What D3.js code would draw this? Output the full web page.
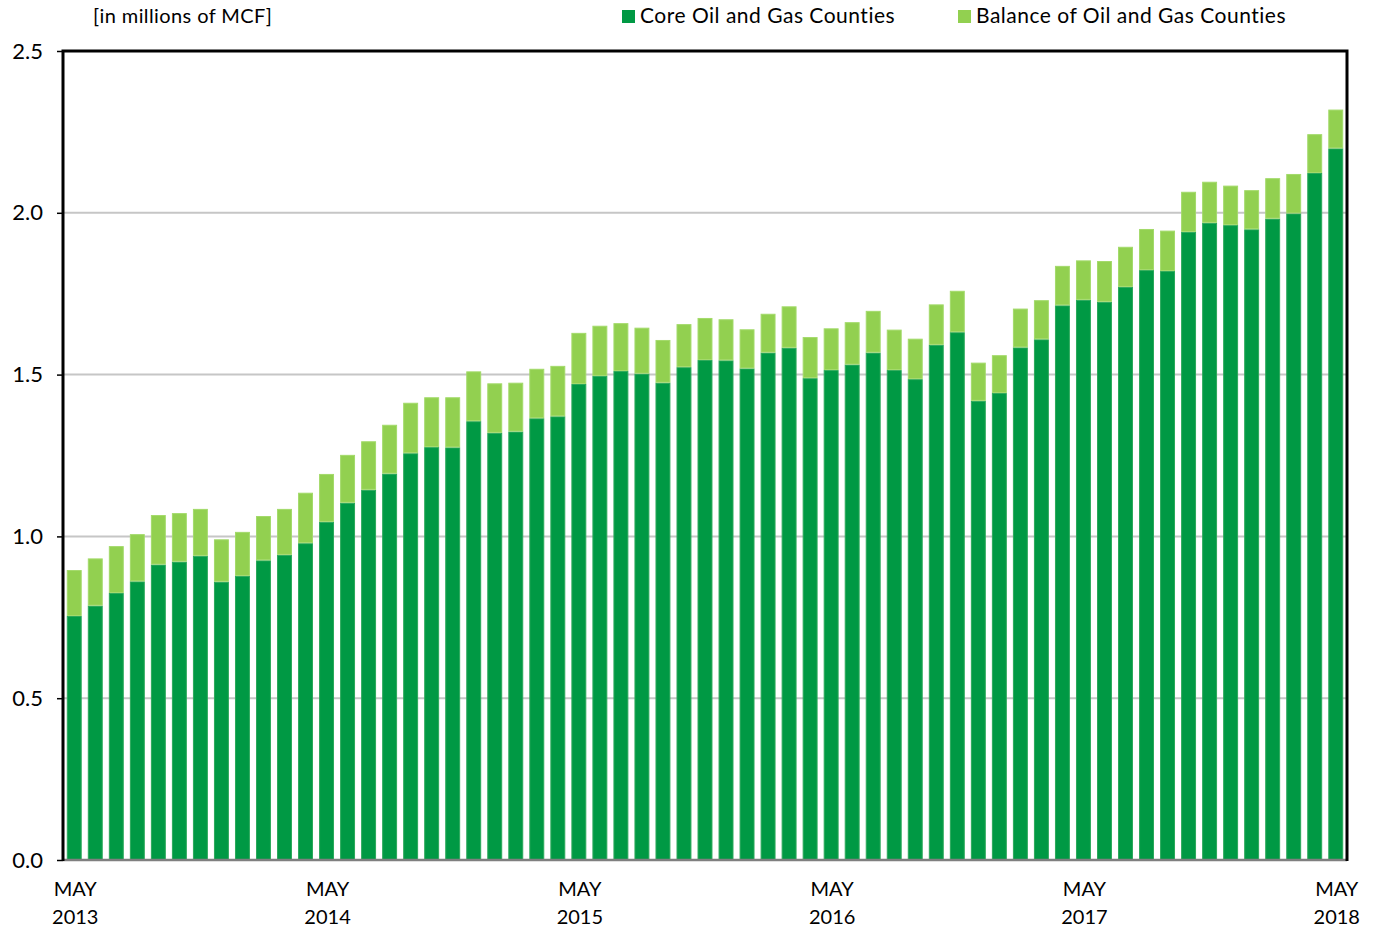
<!DOCTYPE html>
<html>
<head>
<meta charset="utf-8">
<script src="https://cdn.jsdelivr.net/npm/d3@7"></script>
<style>
  body { margin: 0; background: #fff; }
  svg text { font-family: "Lato", "Liberation Sans", sans-serif; fill: #000; }
</style>
</head>
<body>
<script>
// months May 2013 .. May 2018
const months = d3.range(61).map(function(i) { return new Date(2013, 4 + i, 1); });

// core oil and gas counties (millions of MCF)
const coreValues = [
    0.754, 0.786, 0.825, 0.861, 0.913, 0.922, 0.940, 0.860, 0.878, 0.926, 0.943, 0.979,
    1.045, 1.104, 1.144, 1.194, 1.257, 1.276, 1.275, 1.356, 1.320, 1.324, 1.365, 1.371,
    1.471, 1.496, 1.511, 1.503, 1.475, 1.523, 1.545, 1.544, 1.519, 1.568, 1.583, 1.489,
    1.514, 1.531, 1.568, 1.514, 1.486, 1.592, 1.631, 1.419, 1.443, 1.584, 1.609, 1.714,
    1.731, 1.725, 1.771, 1.823, 1.820, 1.941, 1.969, 1.962, 1.949, 1.982, 1.998, 2.123,
    2.199
];

// core + balance totals
const totalValues = [
    0.896, 0.932, 0.970, 1.007, 1.066, 1.072, 1.085, 0.991, 1.014, 1.063, 1.085, 1.135,
    1.193, 1.252, 1.294, 1.345, 1.413, 1.430, 1.430, 1.510, 1.473, 1.475, 1.518, 1.527,
    1.629, 1.651, 1.659, 1.645, 1.607, 1.656, 1.675, 1.671, 1.640, 1.688, 1.711, 1.616,
    1.643, 1.662, 1.697, 1.639, 1.611, 1.717, 1.759, 1.537, 1.560, 1.704, 1.730, 1.836,
    1.853, 1.851, 1.895, 1.950, 1.945, 2.065, 2.096, 2.084, 2.070, 2.107, 2.120, 2.243,
    2.319
];

const seriesNames = ["Core Oil and Gas Counties", "Balance of Oil and Gas Counties"];
const seriesColors = ["#009944", "#92d050"];
const seriesStrokes = ["#2aa85a", "#a3da6a"];
const yTicks = [0, 0.5, 1.0, 1.5, 2.0, 2.5];

window.onload = function() {
    makeChart();
};

/** Draws the stacked monthly bars. */
function makeChart() {

    const width = 1373;
    const height = 928;
    const margin = {left: 63, right: 26, top: 51, bottom: 68};

    // rows for the stack
    let rows = months.map(function(m, i) {
        return {month: m, core: coreValues[i], balance: totalValues[i] - coreValues[i]};
    });
    let stacked = d3.stack().keys(["core", "balance"])(rows);

    let xScale = d3.scaleBand()
                   .domain(d3.range(months.length))
                   .range([margin.left, width - margin.right])
                   .paddingInner(0.29)
                   .paddingOuter(0.18);

    let yScale = d3.scaleLinear()
                   .domain([0, 2.5])
                   .range([height - margin.bottom, margin.top]);

    let svg = d3.select("body")
                .append("svg")
                .attr("width", width)
                .attr("height", height);

    // gridlines
    svg.append("g")
       .selectAll("line")
       .data(yTicks.slice(1, -1))
       .enter().append("line")
       .attr("x1", margin.left)
       .attr("x2", width - margin.right)
       .attr("y1", function(d) { return yScale(d); })
       .attr("y2", function(d) { return yScale(d); })
       .attr("stroke", "#c6c6c6")
       .attr("stroke-width", 2);

    // bars
    svg.append("g")
       .selectAll("g")
       .data(stacked)
       .enter().append("g")
       .attr("fill", function(d, i) { return seriesColors[i]; })
       .attr("stroke", function(d, i) { return seriesStrokes[i]; })
       .selectAll("rect")
       .data(function(d) { return d; })
       .enter().append("rect")
       .attr("x", function(d, i) { return xScale(i) + 0.5; })
       .attr("width", xScale.bandwidth() - 1)
       .attr("y", function(d) { return yScale(d[1]) + 0.5; })
       .attr("height", function(d) { return yScale(d[0]) - yScale(d[1]) - 1; })
       .attr("stroke-width", 1);

    // y axis
    let yAxis = svg.append("g")
                   .attr("transform", "translate(" + margin.left + ",0)")
                   .call(d3.axisLeft(yScale)
                           .tickValues(yTicks)
                           .tickFormat(d3.format(".1f"))
                           .tickSize(6)
                           .tickPadding(14));
    yAxis.select(".domain").remove();
    yAxis.selectAll("line").attr("stroke", "#000").attr("stroke-width", 1.5);
    yAxis.selectAll("text").style("font-size", "22px");

    // frame: black left/top/right, grey bottom
    const x0 = margin.left, x1 = width - margin.right;
    const y0 = margin.top, y1 = height - margin.bottom;
    svg.append("line")
       .attr("x1", x0).attr("x2", x1).attr("y1", y1).attr("y2", y1)
       .attr("stroke", "#7f7f7f").attr("stroke-width", 2.5);
    svg.append("path")
       .attr("d", "M" + x0 + "," + (y1 + 1) + "V" + y0 + "H" + x1 + "V" + (y1 + 1))
       .attr("fill", "none")
       .attr("stroke", "#000")
       .attr("stroke-width", 3);

    // x labels at every May
    let mayIdx = d3.range(0, months.length, 12);
    let xLabels = svg.append("g")
                     .selectAll("text")
                     .data(mayIdx)
                     .enter().append("text")
                     .attr("x", function(i) { return xScale(i) + xScale.bandwidth() / 2 + 1; })
                     .attr("y", y1 + 36)
                     .style("text-anchor", "middle")
                     .style("font-size", "20px");
    xLabels.append("tspan")
           .attr("x", function(i) { return xScale(i) + xScale.bandwidth() / 2 + 1; })
           .text(function(i) { return d3.timeFormat("%b")(months[i]).toUpperCase(); });
    xLabels.append("tspan")
           .attr("x", function(i) { return xScale(i) + xScale.bandwidth() / 2 + 1; })
           .attr("dy", 28)
           .text(function(i) { return d3.timeFormat("%Y")(months[i]); });

    // unit label
    svg.append("text")
       .attr("x", 93)
       .attr("y", 23)
       .style("font-size", "20px")
       .style("letter-spacing", "0.4px")
       .text("[in millions of MCF]");

    // legend
    const legendX = [622, 958];
    let legend = svg.selectAll(".legend")
                    .data(seriesNames)
                    .enter().append("g")
                    .attr("class", "legend")
                    .attr("transform", function(d, i) {
                        return "translate(" + legendX[i] + ",0)"; });

    legend.append("rect")
          .attr("x", 0)
          .attr("y", 10)
          .attr("width", 13)
          .attr("height", 13)
          .attr("fill", function(d, i) { return seriesColors[i]; });

    legend.append("text")
          .attr("x", 18)
          .attr("y", 23)
          .style("font-size", "21px")
          .style("letter-spacing", "0.5px")
          .text(function(d) { return d; });
}
</script>
</body>
</html>
